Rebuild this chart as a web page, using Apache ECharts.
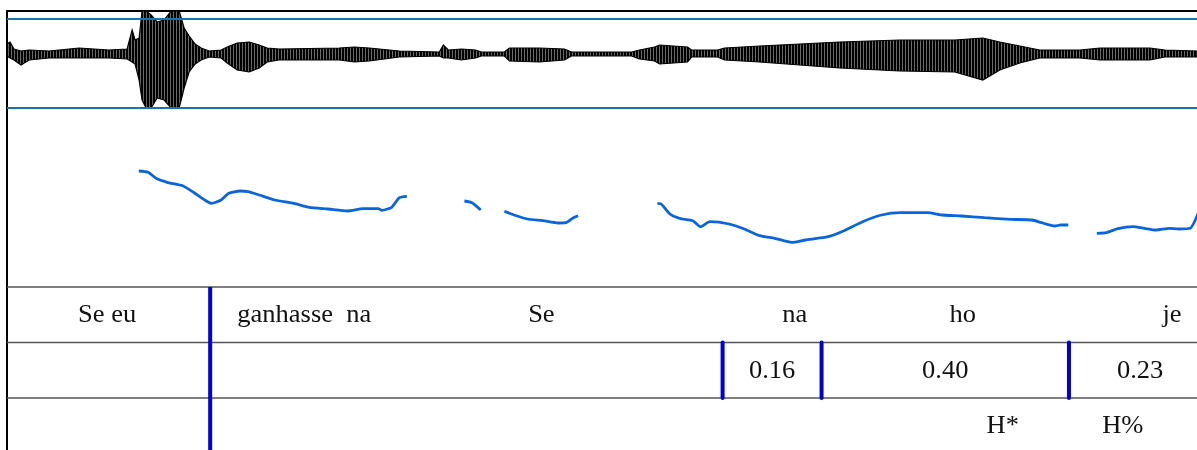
<!DOCTYPE html>
<html>
<head>
<meta charset="utf-8">
<script src="https://cdn.jsdelivr.net/npm/echarts@6/dist/echarts.min.js"></script>
<style>
  html, body { margin: 0; padding: 0; background: #ffffff; }
  #c { width: 1197px; height: 450px; }
</style>
</head>
<body>
<div id="c"></div>
<script>
// ---------- DATA (time in seconds) ----------
const T_MAX = 1.924;               // visible end of the time axis

// waveform envelope: time, upper amplitude, lower amplitude
const waveT  = [0.000,0.0049,0.0113,0.0227,0.0356,0.0680,0.1165,0.1650,0.1942,0.2023,0.2071,0.2136,0.2184,0.2249,0.2330,0.2427,0.2540,0.2654,0.2783,0.2864,0.2945,0.3042,0.3139,0.3269,0.3463,0.3560,0.3722,0.3916,0.4078,0.4207,0.4401,0.5372,0.5615,0.5858,0.6343,0.6990,0.7055,0.7136,0.7346,0.7573,0.7670,0.8042,0.8123,0.8608,0.9013,0.9126,1.0097,1.0227,1.0469,1.0550,1.1003,1.1068,1.1489,1.1602,1.2168,1.2816,1.3463,1.4434,1.5324,1.5777,1.6052,1.6375,1.6699,1.7346,1.7670,1.8479,1.8722,1.9239];
const waveHi = [0.10,0.12,0.05,0.03,0.04,0.03,0.06,0.04,0.05,0.24,0.14,0.16,0.43,0.43,0.39,0.32,0.34,0.43,0.43,0.26,0.18,0.10,0.06,0.03,0.04,0.07,0.11,0.12,0.09,0.06,0.05,0.06,0.07,0.06,0.03,0.02,0.09,0.04,0.05,0.04,0.02,0.02,0.06,0.06,0.05,0.02,0.02,0.04,0.07,0.09,0.07,0.04,0.04,0.06,0.08,0.10,0.12,0.14,0.14,0.16,0.12,0.08,0.04,0.04,0.06,0.06,0.04,0.03];
const waveLo = [-0.02,-0.04,-0.06,-0.11,-0.06,-0.04,-0.04,-0.04,-0.05,-0.08,-0.10,-0.26,-0.46,-0.54,-0.54,-0.44,-0.46,-0.54,-0.54,-0.34,-0.18,-0.10,-0.06,-0.03,-0.04,-0.09,-0.16,-0.18,-0.14,-0.08,-0.06,-0.06,-0.08,-0.07,-0.03,-0.02,-0.04,-0.04,-0.06,-0.04,-0.02,-0.02,-0.07,-0.08,-0.06,-0.02,-0.02,-0.05,-0.07,-0.10,-0.08,-0.03,-0.03,-0.06,-0.08,-0.11,-0.14,-0.17,-0.18,-0.26,-0.16,-0.09,-0.04,-0.04,-0.06,-0.06,-0.03,-0.03];
const waveGuides = [0.35, -0.54];   // amplitude guide lines

// pitch contour segments: [time, Hz]
const pitch1 = [[0.2131,216],[0.2282,214.7],[0.2411,208.7],[0.2589,204.7],[0.2848,201],[0.3026,194.3],[0.3215,186.3],[0.3307,183.7],[0.3463,187],[0.3586,193.7],[0.3770,196],[0.3896,195.3],[0.4078,192],[0.4328,187],[0.4639,183.7],[0.4887,179.7],[0.5194,178],[0.5506,176],[0.5754,178.3],[0.6002,178.3],[0.6063,176.7],[0.6218,179.7],[0.6343,189.3],[0.6466,190.7]];
const pitch2 = [[0.7395,186],[0.7518,184.3],[0.7660,177]];
const pitch3 = [[0.8042,175.7],[0.8199,172],[0.8414,168],[0.8663,166.3],[0.8911,164],[0.9036,164.3],[0.9159,169.3],[0.9233,171.3]];
const pitch4 = [[1.0516,183.7],[1.0578,183],[1.0718,173],[1.0874,168.7],[1.1089,166.3],[1.1212,160.3],[1.1366,165.3],[1.1675,163],[1.1921,158],[1.2168,151.3],[1.2414,148.7],[1.2691,144.7],[1.2906,147],[1.3277,150.3],[1.3523,156],[1.3832,165.3],[1.4139,172],[1.4447,174.3],[1.4879,174.3],[1.5125,172],[1.5434,171],[1.5803,169.3],[1.6235,167.7],[1.6573,167],[1.6726,164.3],[1.6942,161],[1.7036,162],[1.7159,162]];
const pitch5 = [[1.7621,153.7],[1.7775,154.3],[1.7960,158.3],[1.8205,160.3],[1.8390,158.7],[1.8576,157],[1.8791,158.7],[1.8945,158],[1.9131,158.7],[1.9260,174]];
const pitchSegments = [pitch1, pitch2, pitch3, pitch4, pitch5];

// annotation tiers: tier index 0..2
const tierLines = [0, 1, 2];
const boundaries = [[0.3285, 0, 2.94], [1.157, 1, 2], [1.317, 1, 2], [1.717, 1, 2]];
const tier1Labels = [[0.1618,'Se eu'],[0.4806,'ganhasse  na'],[0.864,'Se'],[1.2735,'na'],[1.5453,'ho'],[1.8835,'je']];
const tier2Labels = [[1.237,'0.16'],[1.517,'0.40'],[1.832,'0.23']];
const tier3Labels = [[1.610,'H*'],[1.804,'H%']];

// ---------- CHART ----------
const chart = echarts.init(document.getElementById('c'), null, { renderer: 'canvas' });
const FONT = '25px "Liberation Serif", "Times New Roman", serif';

// vertical-stroke texture for the waveform fill
const tex = document.createElement('canvas');
tex.width = 3; tex.height = 4;
(function () {
  const g = tex.getContext('2d');
  g.fillStyle = '#000'; g.fillRect(0, 0, 3, 4);
  g.fillStyle = '#6a6a6a'; g.fillRect(2, 0, 1, 4);
})();

const labelData = [];
tier1Labels.forEach(d => labelData.push([d[0], 0.5, d[1]]));
tier2Labels.forEach(d => labelData.push([d[0], 1.5, d[1]]));
tier3Labels.forEach(d => labelData.push([d[0], 2.5, d[1]]));

const hiddenX = (gi, extra) => Object.assign({
  type: 'value', gridIndex: gi, min: 0, max: T_MAX,
  axisLabel: { show: false }, axisTick: { show: false }, splitLine: { show: false },
  axisLine: { show: false }
}, extra || {});
const leftY = (gi, min, max, extra) => Object.assign({
  type: 'value', gridIndex: gi, min: min, max: max,
  axisLabel: { show: false }, axisTick: { show: false }, splitLine: { show: false },
  axisLine: { show: true, onZero: false, lineStyle: { color: '#000', width: 2 } }
}, extra || {});

const series = [];

// waveform
series.push({
  type: 'custom', xAxisIndex: 0, yAxisIndex: 0, clip: true, silent: true,
  data: waveT.map((t, i) => [t, waveHi[i], waveLo[i]]),
  renderItem: function (params, api) {
    if (params.dataIndex !== 0) return null;
    const pts = [];
    for (let i = 0; i < waveT.length; i++) pts.push(api.coord([waveT[i], waveHi[i]]));
    for (let i = waveT.length - 1; i >= 0; i--) pts.push(api.coord([waveT[i], waveLo[i]]));
    return { type: 'polygon', shape: { points: pts }, style: { fill: { image: tex, repeat: 'repeat' }, stroke: '#000', lineWidth: 1.2 } };
  },
  markLine: {
    silent: true, symbol: 'none', label: { show: false }, animation: false,
    lineStyle: { color: '#1b74a8', width: 2, type: 'solid' },
    data: waveGuides.map(v => ({ yAxis: v }))
  },
  z: 3
});

// pitch
pitchSegments.forEach(seg => {
  series.push({
    type: 'line', xAxisIndex: 1, yAxisIndex: 1, data: seg, showSymbol: false, smooth: 0.2,
    silent: true, clip: true,
    lineStyle: { color: '#0a64dc', width: 2.8 }, z: 3
  });
});

// tier horizontal lines
series.push({
  type: 'custom', xAxisIndex: 2, yAxisIndex: 2, silent: true, clip: false,
  data: tierLines.map(v => [v]),
  renderItem: function (params, api) {
    const v = api.value(0);
    const a = api.coord([0, v]);
    const b = api.coord([T_MAX, v]);
    return { type: 'line', shape: { x1: a[0], y1: a[1], x2: b[0], y2: b[1] }, style: { stroke: '#555', lineWidth: 1.5 } };
  },
  z: 2
});

// boundaries
series.push({
  type: 'custom', xAxisIndex: 2, yAxisIndex: 2, silent: true, clip: true,
  data: boundaries,
  renderItem: function (params, api) {
    const a = api.coord([api.value(0), api.value(1)]);
    const b = api.coord([api.value(0), api.value(2)]);
    return { type: 'line', shape: { x1: a[0], y1: a[1], x2: b[0], y2: b[1] }, style: { stroke: '#0000d0', lineWidth: 4, lineCap: 'round' } };
  },
  z: 4
});

// labels
series.push({
  type: 'custom', xAxisIndex: 2, yAxisIndex: 2, silent: true, clip: false,
  data: labelData,
  renderItem: function (params, api) {
    const p = api.coord([api.value(0), api.value(1)]);
    return { type: 'text', x: p[0], y: p[1] + 1, scaleX: 1.06, style: { text: labelData[params.dataIndex][2], font: FONT, fill: '#111', align: 'center', verticalAlign: 'middle' } };
  },
  z: 5
});

chart.setOption({
  animation: false,
  backgroundColor: '#ffffff',
  grid: [
    { left: 7, right: 0, top: 11, height: 97 },
    { left: 7, right: 0, top: 108, height: 179 },
    { left: 7, right: 0, top: 287, height: 163 }
  ],
  xAxis: [
    hiddenX(0, { position: 'top', axisLine: { show: true, onZero: false, lineStyle: { color: '#000', width: 2 } } }),
    hiddenX(1),
    hiddenX(2)
  ],
  yAxis: [
    leftY(0, -0.54, 0.43),
    leftY(1, 100, 279),
    leftY(2, 0, 2.937, { inverse: true })
  ],
  series: series
});
</script>
</body>
</html>
